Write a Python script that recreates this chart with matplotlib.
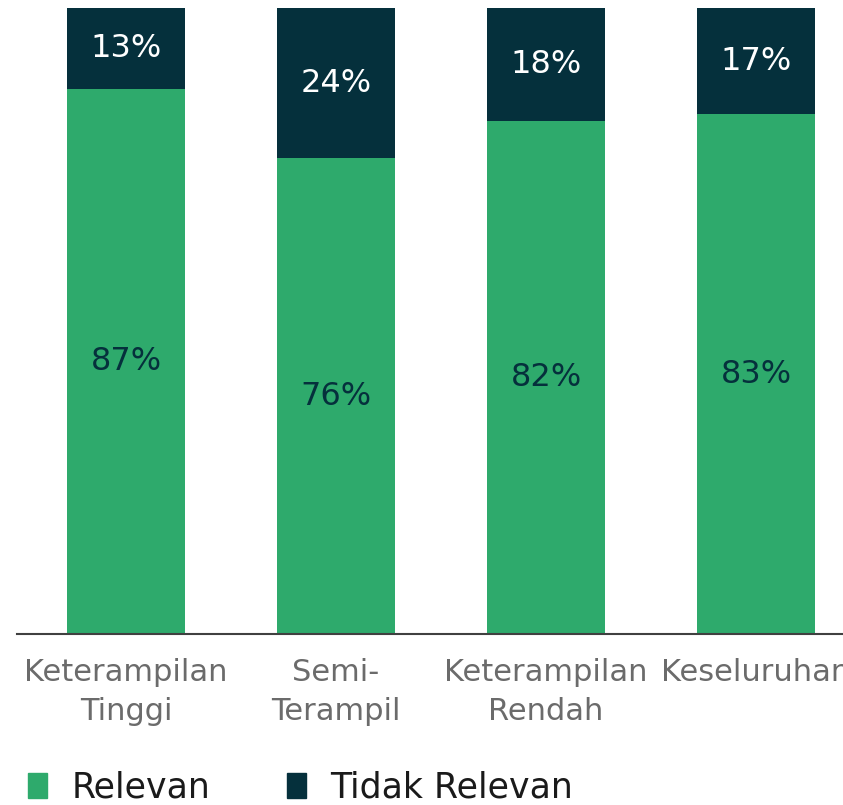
import matplotlib
matplotlib.use("Agg")
import matplotlib.pyplot as plt
from matplotlib.patches import Patch

categories = ["Keterampilan\nTinggi", "Semi-\nTerampil", "Keterampilan\nRendah", "Keseluruhan"]
relevan = [87, 76, 82, 83]
tidak_relevan = [13, 24, 18, 17]
series_names = ["Relevan", "Tidak Relevan"]

GREEN = "#2EAA6C"
DARK = "#05303C"

plt.rcParams['font.family'] = ['DejaVu Sans']

fig = plt.figure(figsize=(8.43, 8.05), dpi=100)
ax = fig.add_axes([17/843, 171/805, (126 + 3.48*210 - 17)/843, (634-8)/805])

x = list(range(len(categories)))
w = 0.56
ax.bar(x, relevan, width=w, color=GREEN)
ax.bar(x, tidak_relevan, width=w, bottom=relevan, color=DARK)

for i in x:
    ax.text(i, relevan[i]/2, f"{relevan[i]}%", ha="center", va="center",
            fontsize=23, color=DARK)
    ax.text(i, relevan[i] + tidak_relevan[i]/2, f"{tidak_relevan[i]}%", ha="center",
            va="center", fontsize=23, color="white")

ax.set_xlim(-0.52, 3.48)
ax.set_ylim(0, 100)
ax.set_yticks([])
ax.set_xticks(x)
ax.set_xticklabels(categories, fontsize=22, color="#6b6b6b", linespacing=1.45)
ax.tick_params(axis="x", length=0, pad=17)
for s in ["top", "right", "left"]:
    ax.spines[s].set_visible(False)
ax.spines["bottom"].set_color("#404040")
ax.spines["bottom"].set_linewidth(1.5)

handles = [Patch(color=GREEN), Patch(color=DARK)]
fig.legend(handles, series_names, loc="lower left", bbox_to_anchor=(-0.004, -0.038),
           ncol=2, frameon=False, fontsize=25, handlelength=0.55, handleheight=0.75,
           handletextpad=0.7, columnspacing=2.2, labelcolor="#1a1a1a")

fig.savefig("out.png", dpi=100)
